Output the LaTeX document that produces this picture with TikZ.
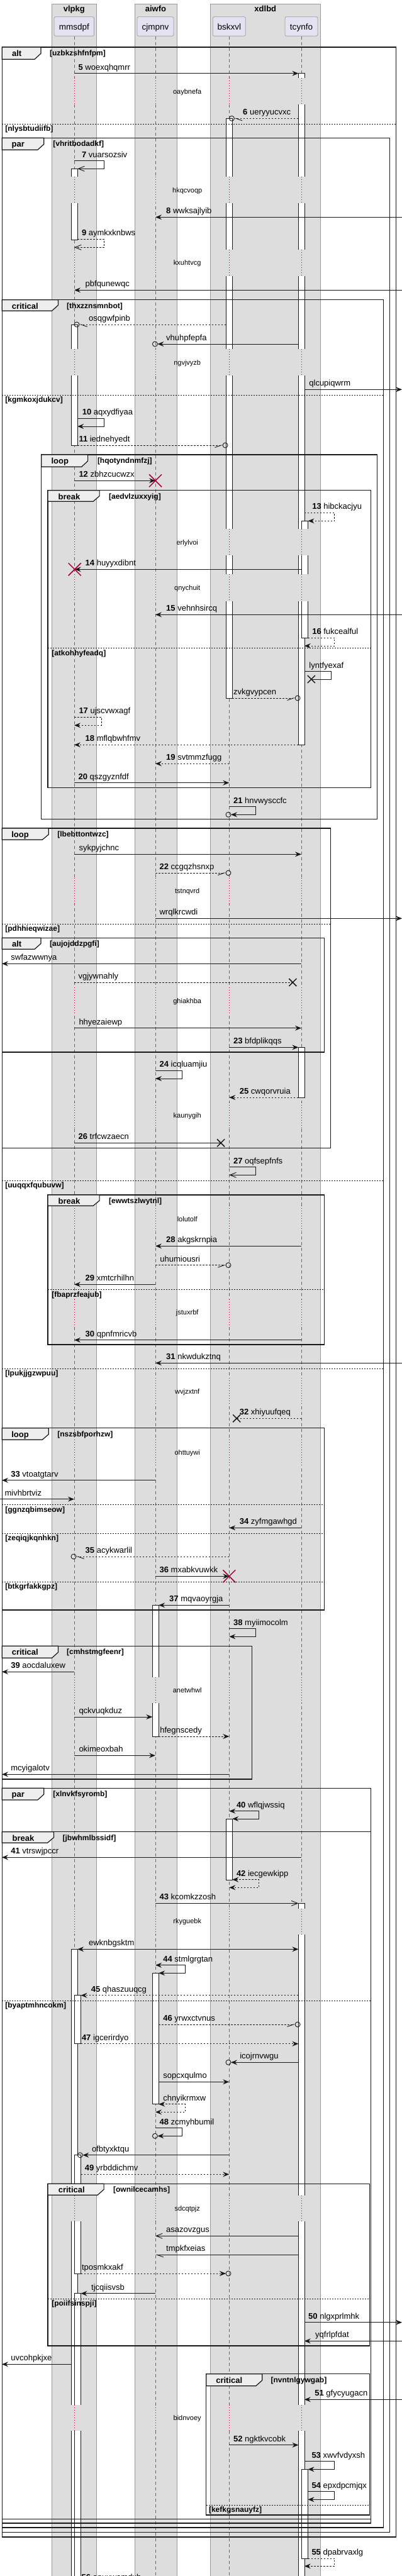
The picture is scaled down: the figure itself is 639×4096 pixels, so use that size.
\documentclass[tikz,border=0pt]{standalone}
\usepackage{fontspec}
\setmainfont{Liberation Sans}
\usetikzlibrary{arrows.meta}
\definecolor{grpfill}{HTML}{DDDDDD}
\definecolor{grpline}{HTML}{999999}
\definecolor{partfill}{HTML}{E2E2F0}
\definecolor{partline}{HTML}{A0A0A0}
\definecolor{tabfill}{HTML}{EEEEEE}
\definecolor{dlyred}{HTML}{A80036}
\definecolor{ink}{HTML}{181818}

\begin{document}
\begin{tikzpicture}[x=1pt, y=-1pt,
  grp/.style={draw=grpline, fill=grpfill, line width=0.8pt},
  part/.style={draw=partline, fill=partfill, rounded corners=2.5pt, line width=0.8pt,
               minimum height=30.6pt, inner sep=0pt, text height=14pt, text depth=3pt,
               font=\fontsize{13.5}{16}\selectfont},
  life/.style={draw=black!60, line width=0.6pt, dash pattern=on 5pt off 4pt},
  act/.style={draw=ink, fill=white, line width=0.8pt},
  dlyline/.style={draw=dlyred, line width=0.8pt, dash pattern=on 1pt off 3pt},
  frm/.style={draw=ink, line width=1.5pt},
  tab/.style={draw=ink, fill=tabfill, line width=1.2pt},
  sep/.style={draw=ink, line width=0.8pt, dash pattern=on 2pt off 2pt},
  msg/.style={draw=ink, line width=0.9pt},
  ret/.style={msg, dash pattern=on 2.5pt off 2.5pt},
  tofill/.style={-{Stealth[length=10pt, width=8pt, inset=3.5pt]}},
  bothfill/.style={{Stealth[length=10pt, width=8pt, inset=3.5pt]}-{Stealth[length=10pt, width=8pt, inset=3.5pt]}},
  toopen/.style={-{Straight Barb[length=10pt, width=8pt]}},
  halfl/.style={-{Straight Barb[left, length=10pt, width=7pt]}},
  halfr/.style={-{Straight Barb[right, length=10pt, width=7pt]}},
  ring/.style={draw=ink, line width=0.9pt},
  xred/.style={draw=dlyred, line width=1.5pt},
  xblk/.style={draw=ink, line width=1.5pt},
  txt/.style={font=\fontsize{13}{15}\selectfont, anchor=base west, inner sep=0pt},
  dly/.style={font=\fontsize{11}{13}\selectfont, inner sep=0pt},
  kind/.style={font=\bfseries\fontsize{13}{15}\selectfont, anchor=base, inner sep=0pt},
  cond/.style={font=\bfseries\fontsize{12}{14}\selectfont, anchor=base west, inner sep=0pt},
  ttl/.style={font=\bfseries\fontsize{13}{15}\selectfont, anchor=base, inner sep=0pt}
]
  \path[use as bounding box, clip] (0,0) rectangle (639,4096);
  \fill[white] (0,0) rectangle (639,4096);

  % boxes and participants
  \draw[grp] (82.1,6) rectangle (153.6,4110);
  \draw[grp] (214,6) rectangle (281,4110);
  \draw[grp] (333.9,6) rectangle (509.7,4110);
  \node[ttl] (vlpkg) at (117.8,18.7) {vlpkg};
  \node[ttl] (aiwfo) at (247.5,18.7) {aiwfo};
  \node[ttl] (xdlbd) at (421.8,18.7) {xdlbd};

  \node[part, minimum width=63.5pt] (mmsdpf) at (117.8,42) {mmsdpf};
  \node[part, minimum width=58pt] (cjmpnv) at (247,42) {cjmpnv};
  \node[part, minimum width=52pt] (bskxvl) at (364.3,42) {bskxvl};
  \node[part, minimum width=52pt] (tcynfo) at (479,42) {tcynfo};

  \foreach \p in {mmsdpf, cjmpnv, bskxvl, tcynfo}
    \draw[life] (\p.south) -- (\p.south |- 0,4110);

  % activations
  \foreach \bx/\ya/\yb in {118/268.3/381.3, 118/516/708, 118/3099.3/4110,
      123.6/3172.7/3249.3, 123.6/3426.7/3615, 123.6/3646.7/4110,
      247.2/2552.3/2761, 247.2/3137.3/3345.7,
      364.3/188.3/1110, 364.3/2892/2989.3,
      479.1/116.7/1184.3, 479.1/1665.3/1745, 479.1/3026.3/4110,
      484.6/828.3/1014, 484.6/3926.3/4068}
    \draw[act] (\bx-4.9,\ya) rectangle (\bx+4.9,\yb);

  % delays
  \foreach \ya/\yb/\ty/\tx in {124.3/165.7/146.7/oaybnefa, 281.3/323/303.3/hkqcvoqp,
      396.7/438.7/418.7/kxuhtvcg, 555.3/597/577.3/ngvjvyzb, 840.7/883.3/863.3/erlylvoi,
      913.3/955.7/935.3/qnychuit, 1395.6/1437/1418/tstnqvrd, 1570/1612/1592.3/ghiakhba,
      1752.6/1794/1775/kaunygih, 1917.3/1958.7/1939/lolutolf, 2066/2108/2088/jstuxrbf,
      2191/2232.7/2213.3/wvjzxtnf, 2288.5/2331/2310.3/ohttuywi, 2666.7/2708/2688/anetwhwl,
      3034.7/3076/3056/rkyguebk, 3490.7/3532.3/3512.3/sdcqtpjz, 3823.7/3865.3/3845.3/bidnvoey} {
    \foreach \lx in {118, 247, 364.3, 479} {
      \fill[grpfill] (\lx-6,\ya) rectangle (\lx+11.5,\yb);
      \draw[dlyline] (\lx,\ya) -- (\lx,\yb);
    }
    \node[dly] (\tx) at (297.7,\ty) {\tx};
  }

  % alt uzbkzshfnfpm
  \draw[frm] (3.3,75) rectangle (629.6,4033.7);
  \draw[tab] (3.3,75) -- (65,75) -- (65,85) -- (55,94.3) -- (3.3,94.3) -- cycle;
  \node[kind] (alta) at (26.7,89.3) {alt};
  \node[cond] (altac) at (78.9,88.5) {[uzbkzshfnfpm]};
  \draw[sep] (3.3,197.3) -- (629.6,197.3);
  \node[cond] (altae) at (8.2,208.8) {[nlysbtudiifb]};
  % par vhritbodadkf
  \draw[frm] (3.3,219.3) rectangle (619.3,4026.3);
  \draw[tab] (3.3,219.3) -- (69.8,219.3) -- (69.8,229.3) -- (59.8,238.3) -- (3.3,238.3) -- cycle;
  \node[kind] (para) at (28.7,233.6) {par};
  \node[cond] (parac) at (84.2,232.8) {[vhritbodadkf]};
  % critical thxzznsmnbot
  \draw[frm] (3.3,476.7) rectangle (609.5,4018.7);
  \draw[tab] (3.3,476.7) -- (92.4,476.7) -- (92.4,485.3) -- (82.4,494.3) -- (3.3,494.3) -- cycle;
  \node[kind] (crita) at (39.8,491) {critical};
  \node[cond] (critac) at (106,490.2) {[thxzznsmnbot]};
  \draw[sep] (3.3,628) -- (609.5,628);
  \node[cond] (critae1) at (8.2,639.5) {[kgmkoxjdukcv]};
  \draw[sep] (3.3,1877.3) -- (609.5,1877.3);
  \node[cond] (critae2) at (8.2,1888.8) {[uuqqxfqubuvw]};
  \draw[sep] (3.3,2176.3) -- (609.5,2176.3);
  \node[cond] (critae3) at (8.2,2187.8) {[lpukjjgzwpuu]};
  % loop hqotyndnmfzj
  \draw[frm] (65.7,723) rectangle (599.6,1302.7);
  \draw[tab] (65.7,723) -- (139.6,723) -- (139.6,733) -- (129.6,742.3) -- (65.7,742.3) -- cycle;
  \node[kind] (loopa) at (95.3,737.3) {loop};
  \node[cond] (loopac) at (154.8,736.5) {[hqotyndnmfzj]};
  % break aedvlzuxxyig
  \draw[frm] (76,779.7) rectangle (589.7,1252.7);
  \draw[tab] (76,779.7) -- (158.1,779.7) -- (158.1,788.7) -- (148.1,797.3) -- (76,797.3) -- cycle;
  \node[kind] (brka) at (110,794) {break};
  \node[cond] (brkac) at (172.9,793.2) {[aedvlzuxxyig]};
  \draw[sep] (76,1030.7) -- (589.7,1030.7);
  \node[cond] (brkae) at (82.1,1042.2) {[atkohhyfeadq]};
  % loop lbebttontwzc
  \draw[frm] (3.3,1317) rectangle (525.7,1825.3);
  \draw[tab] (3.3,1317) -- (77.2,1317) -- (77.2,1327) -- (67.2,1335.3) -- (3.3,1335.3) -- cycle;
  \node[kind] (loopb) at (32,1331.3) {loop};
  \node[cond] (loopbc) at (91.2,1330.5) {[lbebttontwzc]};
  \draw[sep] (3.3,1469) -- (525.7,1469);
  \node[cond] (loopbe) at (8.2,1480.5) {[pdhhieqwizae]};
  % alt aujojddzpgfi
  \draw[frm] (3.3,1491.3) rectangle (515.4,1673);
  \draw[tab] (3.3,1491.3) -- (65,1491.3) -- (65,1500.3) -- (55,1509.3) -- (3.3,1509.3) -- cycle;
  \node[kind] (altb) at (26.7,1505.6) {alt};
  \node[cond] (altbc) at (78.9,1504.8) {[aujojddzpgfi]};
  % break ewwtszlwytnl
  \draw[frm] (76,1900) rectangle (515.4,2138);
  \draw[tab] (76,1900) -- (158.1,1900) -- (158.1,1909) -- (148.1,1917.3) -- (76,1917.3) -- cycle;
  \node[kind] (brkb) at (110,1914.3) {break};
  \node[cond] (brkbc) at (172.9,1913.5) {[ewwtszlwytnl]};
  \draw[sep] (76,2050.5) -- (515.4,2050.5);
  \node[cond] (brkbe) at (82.1,2062) {[fbaprzfeajub]};
  % loop nszsbfporhzw
  \draw[frm] (3.3,2270.7) rectangle (515.4,2560);
  \draw[tab] (3.3,2270.7) -- (77.2,2270.7) -- (77.2,2280.7) -- (67.2,2289.3) -- (3.3,2289.3) -- cycle;
  \node[kind] (loopc) at (32,2285) {loop};
  \node[cond] (loopcc) at (91.2,2284.2) {[nszsbfporhzw]};
  \draw[sep] (3.3,2392.7) -- (515.4,2392.7);
  \node[cond] (loopce1) at (8.2,2404.2) {[ggnzqbimseow]};
  \draw[sep] (3.3,2438.3) -- (515.4,2438.3);
  \node[cond] (loopce2) at (8.2,2449.8) {[zeqiqjkqnhkn]};
  \draw[sep] (3.3,2515.3) -- (515.4,2515.3);
  \node[cond] (loopce3) at (8.2,2526.8) {[btkgrfakkgpz]};
  % critical cmhstmgfeenr
  \draw[frm] (3.3,2617.3) rectangle (400.4,2829);
  \draw[tab] (3.3,2617.3) -- (92.4,2617.3) -- (92.4,2627.3) -- (82.4,2636.3) -- (3.3,2636.3) -- cycle;
  \node[kind] (critb) at (39.8,2631.6) {critical};
  \node[cond] (critbc) at (106,2630.8) {[cmhstmgfeenr]};
  % par xlnvkfsyromb
  \draw[frm] (3.3,2843.3) rectangle (589.7,4012);
  \draw[tab] (3.3,2843.3) -- (69.8,2843.3) -- (69.8,2853) -- (59.8,2862) -- (3.3,2862) -- cycle;
  \node[kind] (parb) at (28.7,2857.6) {par};
  \node[cond] (parbc) at (84.2,2856.8) {[xlnvkfsyromb]};
  % break jbwhmlbssidf
  \draw[frm] (3.3,2912.7) rectangle (589.7,4005.3);
  \draw[tab] (3.3,2912.7) -- (85.4,2912.7) -- (85.4,2921.7) -- (75.4,2930.3) -- (3.3,2930.3) -- cycle;
  \node[kind] (brkc) at (37,2927) {break};
  \node[cond] (brkcc) at (99.4,2926.2) {[jbwhmlbssidf]};
  \draw[sep] (3.3,3181.3) -- (589.7,3181.3);
  \node[cond] (brkce) at (8.2,3192.8) {[byaptmhncokm]};
  % critical ownilcecamhs
  \draw[frm] (76,3472.3) rectangle (587.3,3730);
  \draw[tab] (76,3472.3) -- (165.1,3472.3) -- (165.1,3481.3) -- (155.1,3490.3) -- (76,3490.3) -- cycle;
  \node[kind] (critc) at (113.8,3486.6) {critical};
  \node[cond] (critcc) at (179.9,3485.8) {[ownilcecamhs]};
  \draw[sep] (76,3655.3) -- (587.3,3655.3);
  \node[cond] (critce) at (82.1,3666.8) {[poiifsinspji]};
  % critical nvntnlgywgab
  \draw[frm] (327.7,3774.7) rectangle (587.3,3998.7);
  \draw[tab] (327.7,3774.7) -- (416.8,3774.7) -- (416.8,3784.7) -- (406.8,3793.7) -- (327.7,3793.7) -- cycle;
  \node[kind] (critd) at (364.3,3789) {critical};
  \node[cond] (critdc) at (430.4,3788.2) {[nvntnlgywgab]};
  \draw[sep] (327.7,3983) -- (587.3,3983);
  \node[cond] (critde) at (331.8,3994.5) {[kefkgsnauyfz]};

  % messages
  \draw[msg, tofill] (118,116.7) -- (474.4,116.7);
  \node[txt] (woex) at (124.4,111.1) {\textbf{5} woexqhqmrr};
  \draw[ret, halfl] (474.4,188.3) -- (372.4,188.3);
  \draw[ring] (368.4,188.3) circle[radius=4pt];
  \node[txt] (uery) at (386,182.7) {\textbf{6} ueryyucvxc};
  \draw[msg, toopen] (118,255.7) -- (165.5,255.7) -- (165.5,268.3) -- (123.2,268.3);
  \node[txt] (vuar) at (129.8,250.1) {\textbf{7} vuarsozsiv};
  \draw[msg, tofill] (639,345.3) -- (247,345.3);
  \node[txt] (wwks) at (264,339.7) {\textbf{8} wwksajlyib};
  \draw[ret, toopen] (123.2,380.3) -- (165.5,380.3) -- (165.5,393.3) -- (118,393.3);
  \node[txt] (aymk) at (129.8,374.7) {\textbf{9} aymkxknbws};
  \draw[msg, tofill] (639,461.3) -- (118,461.3);
  \node[txt] (pbfq) at (135.5,455.7) {pbfqunewqc};
  \draw[ret, halfl] (359.4,516) -- (126,516);
  \draw[ring] (122,516) circle[radius=4pt];
  \node[txt] (osqg) at (140.9,510.4) {osqgwfpinb};
  \draw[msg, tofill] (474.4,547) -- (250.4,547);
  \draw[ring] (246.4,547) circle[radius=4pt];
  \node[txt] (vhuh) at (264,541.4) {vhuhpfepfa};
  \draw[msg, tofill] (483.8,619.3) -- (639,619.3);
  \node[txt] (qlcu) at (491.2,613.7) {qlcupiqwrm};
  \draw[msg, tofill] (123.2,665.3) -- (165.5,665.3) -- (165.5,678) -- (123.2,678);
  \node[txt] (aqxy) at (130.6,659.7) {\textbf{10} aqxydfiyaa};
  \draw[ret, halfr] (123.2,708) -- (354.1,708);
  \draw[ring] (358.1,708) circle[radius=4pt];
  \node[txt] (iedn) at (125.3,702.4) {\textbf{11} iednehyedt};
  \draw[msg, tofill] (118,764.3) -- (247,764.3);
  \draw[xred] (237,754.3) -- (257,774.3) (237,774.3) -- (257,754.3);
  \node[txt] (zbhz) at (125.3,758.7) {\textbf{12} zbhzcucwzx};
  \draw[ret, tofill] (483.8,815.3) -- (531.9,815.3) -- (531.9,828.3) -- (489.5,828.3);
  \node[txt] (hibc) at (496.1,809.7) {\textbf{13} hibckacjyu};
  \draw[msg, tofill] (479,905.3) -- (118.7,905.3);
  \draw[xred] (108.7,895.3) -- (128.7,915.3) (108.7,915.3) -- (128.7,895.3);
  \node[txt] (huyy) at (135.5,899.7) {\textbf{14} huyyxdibnt};
  \draw[msg, tofill] (639,977.3) -- (247,977.3);
  \node[txt] (vehn) at (264,971.7) {\textbf{15} vehnhsircq};
  \draw[ret, tofill] (489.5,1014) -- (531.9,1014) -- (531.9,1027) -- (483.8,1027);
  \node[txt] (fukc) at (496.1,1008.4) {\textbf{16} fukcealful};
  \draw[msg] (483.8,1067.7) -- (526.5,1067.7) -- (526.5,1080) -- (494.9,1080);
  \draw[xblk] (488.9,1074) -- (500.9,1086) (488.9,1086) -- (500.9,1074);
  \node[txt] (lynt) at (491.2,1062.1) {lyntfyexaf};
  \draw[ret, halfr] (369.2,1110) -- (469.1,1110);
  \draw[ring] (473.1,1110) circle[radius=4pt];
  \node[txt] (zvkg) at (370.9,1104.4) {zvkgvypcen};
  \draw[ret, tofill] (118,1140.3) -- (161,1140.3) -- (161,1153.3) -- (118,1153.3);
  \node[txt] (ujsc) at (125.3,1134.7) {\textbf{17} ujscvwxagf};
  \draw[ret, tofill] (474.4,1184.3) -- (118,1184.3);
  \node[txt] (mflq) at (135.5,1178.7) {\textbf{18} mflqbwhfmv};
  \draw[ret, tofill] (364.3,1214.3) -- (247,1214.3);
  \node[txt] (svtm) at (264,1208.7) {\textbf{19} svtmmzfugg};
  \draw[msg, tofill] (118,1244.7) -- (364.3,1244.7);
  \node[txt] (qszg) at (124.4,1239.1) {\textbf{20} qszgyznfdf};
  \draw[msg, tofill] (364.3,1282.7) -- (406.6,1282.7) -- (406.6,1295.3) -- (367,1295.3);
  \draw[ring] (363,1295.3) circle[radius=4pt];
  \node[txt] (hnvw) at (370.9,1277.1) {\textbf{21} hnvwysccfc};
  \draw[msg, tofill] (118,1358.3) -- (479,1358.3);
  \node[txt] (sykp) at (125.3,1352.7) {sykpyjchnc};
  \draw[ret, halfr] (247,1388) -- (359,1388);
  \draw[ring] (363,1388) circle[radius=4pt];
  \node[txt] (ccgq) at (253.4,1382.4) {\textbf{22} ccgqzhsnxp};
  \draw[msg, tofill] (247,1460.3) -- (639,1460.3);
  \node[txt] (wrql) at (253.4,1454.7) {wrqlkrcwdi};
  \draw[msg, tofill] (479,1532.3) -- (3,1532.3);
  \node[txt] (swfa) at (17.2,1526.7) {swfazwwnya};
  \draw[ret] (118,1562) -- (465.3,1562);
  \draw[xblk] (459.3,1556) -- (471.3,1568) (459.3,1568) -- (471.3,1556);
  \node[txt] (vgjy) at (124.4,1556.4) {vgjywnahly};
  \draw[msg, tofill] (118,1634.7) -- (479,1634.7);
  \node[txt] (hhye) at (125.3,1629.1) {hhyezaiewp};
  \draw[msg, tofill] (364.3,1665.3) -- (474.4,1665.3);
  \node[txt] (bfdp) at (370.9,1659.7) {\textbf{23} bfdplikqqs};
  \draw[msg, tofill] (247,1702.3) -- (289.5,1702.3) -- (289.5,1715) -- (247,1715);
  \node[txt] (icql) at (253.4,1696.7) {\textbf{24} icqluamjiu};
  \draw[ret, tofill] (474.4,1745) -- (364.3,1745);
  \node[txt] (cwqo) at (380.7,1739.4) {\textbf{25} cwqorvruia};
  \draw[msg] (118,1817.3) -- (351.1,1817.3);
  \draw[xblk] (345.1,1811.3) -- (357.1,1823.3) (345.1,1823.3) -- (357.1,1811.3);
  \node[txt] (trfc) at (124.4,1811.7) {\textbf{26} trfcwzaecn};
  \draw[msg, toopen] (364.3,1855.7) -- (406.6,1855.7) -- (406.6,1868.3) -- (364.3,1868.3);
  \node[txt] (oqfs) at (370.9,1850.1) {\textbf{27} oqfsepfnfs};
  \draw[msg, tofill] (479,1981.3) -- (247,1981.3);
  \node[txt] (akgs) at (264,1975.7) {\textbf{28} akgskrnpia};
  \draw[ret, halfr] (247,2011.7) -- (359,2011.7);
  \draw[ring] (363,2011.7) circle[radius=4pt];
  \node[txt] (uhum) at (254.2,2006.1) {uhumiousri};
  \draw[msg, tofill] (247,2042.3) -- (118,2042.3);
  \node[txt] (xmtc) at (135.5,2036.7) {\textbf{29} xmtcrhilhn};
  \draw[msg, tofill] (479,2130.7) -- (118,2130.7);
  \node[txt] (qpnf) at (135.5,2125.1) {\textbf{30} qpnfmricvb};
  \draw[msg, tofill] (639,2167.3) -- (247,2167.3);
  \node[txt] (nkwd) at (264,2161.7) {\textbf{31} nkwdukztnq};
  \draw[ret] (479,2255.3) -- (376.2,2255.3);
  \draw[xblk] (370.2,2249.3) -- (382.2,2261.3) (370.2,2261.3) -- (382.2,2249.3);
  \node[txt] (xhiy) at (380.7,2249.7) {\textbf{32} xhiyuufqeq};
  \draw[msg, tofill] (247,2353.7) -- (3,2353.7);
  \node[txt] (vtoa) at (17.2,2348.1) {\textbf{33} vtoatgtarv};
  \draw[msg, tofill] (0,2383.7) -- (118,2383.7);
  \node[txt] (mivh) at (7.4,2378.1) {mivhbrtviz};
  \draw[msg, tofill] (479,2429.3) -- (364.3,2429.3);
  \node[txt] (zyfm) at (380.7,2423.7) {\textbf{34} zyfmgawhgd};
  \draw[ret, halfl] (364.3,2475) -- (121,2475);
  \draw[ring] (117,2475) circle[radius=4pt];
  \node[txt] (acyk) at (135.5,2469.4) {\textbf{35} acykwarlil};
  \draw[msg, tofill] (247,2506.3) -- (364.3,2506.3);
  \draw[xred] (354.3,2496.3) -- (374.3,2516.3) (354.3,2516.3) -- (374.3,2496.3);
  \node[txt] (mxab) at (253.4,2500.7) {\textbf{36} mxabkvuwkk};
  \draw[msg, tofill] (364.3,2552.3) -- (252.2,2552.3);
  \node[txt] (mqva) at (269,2546.7) {\textbf{37} mqvaoyrgja};
  \draw[msg, tofill] (364.3,2589.7) -- (406.6,2589.7) -- (406.6,2602.3) -- (364.3,2602.3);
  \node[txt] (myii) at (370.9,2584.1) {\textbf{38} myiimocolm};
  \draw[msg, tofill] (118,2658.3) -- (3,2658.3);
  \node[txt] (aocd) at (17.2,2652.7) {\textbf{39} aocdaluxew};
  \draw[msg, tofill] (118,2730) -- (242.3,2730);
  \node[txt] (qckv) at (125.3,2724.4) {qckvuqkduz};
  \draw[ret, tofill] (252.2,2761) -- (364.3,2761);
  \node[txt] (hfeg) at (254.2,2755.4) {hfegnscedy};
  \draw[msg, tofill] (118,2791.3) -- (247,2791.3);
  \node[txt] (okim) at (125.3,2785.7) {okimeoxbah};
  \draw[msg, tofill] (364.3,2821.3) -- (3,2821.3);
  \node[txt] (mcyi) at (17.2,2815.7) {mcyigalotv};
  \draw[msg, bothfill] (364.3,2879.7) -- (411.5,2879.7) -- (411.5,2892) -- (369.2,2892);
  \node[txt] (wflq) at (375.8,2874.1) {\textbf{40} wflqjwssiq};
  \draw[msg, tofill] (479,2953.3) -- (3,2953.3);
  \node[txt] (vtrs) at (17.2,2947.7) {\textbf{41} vtrswjpccr};
  \draw[ret, bothfill] (369.2,2988.7) -- (411.5,2988.7) -- (411.5,3001.3) -- (364.3,3001.3);
  \node[txt] (iecg) at (375.8,2983.1) {\textbf{42} iecgewkipp};
  \draw[msg, toopen] (247,3026.3) -- (474.4,3026.3);
  \node[txt] (kcom) at (253.4,3020.7) {\textbf{43} kcomkzzosh};
  \draw[msg, bothfill] (123.2,3099.3) -- (474.4,3099.3);
  \node[txt] (ewkn) at (140.9,3093.7) {ewknbgsktm};
  \draw[msg, bothfill] (247,3124.7) -- (294.5,3124.7) -- (294.5,3137.3) -- (252.2,3137.3);
  \node[txt] (stml) at (259.2,3119.1) {\textbf{44} stmlgrgtan};
  \draw[ret, tofill] (474.4,3172.7) -- (128.5,3172.7);
  \node[txt] (qhas) at (144.6,3167.1) {\textbf{45} qhaszuuqcg};
  \draw[ret, halfr] (252.2,3219) -- (469.1,3219);
  \draw[ring] (473.1,3219) circle[radius=4pt];
  \node[txt] (yrwx) at (259.2,3213.4) {\textbf{46} yrwxctvnus};
  \draw[ret, tofill] (128.5,3249.7) -- (474.4,3249.7);
  \node[txt] (igce) at (129.8,3244.1) {\textbf{47} igcerirdyo};
  \draw[msg, tofill] (474.4,3279.3) -- (367,3279.3);
  \draw[ring] (363,3279.3) circle[radius=4pt];
  \node[txt] (icoj) at (381.1,3273.7) {icojrnvwgu};
  \draw[msg, tofill] (252.2,3310.3) -- (364.3,3310.3);
  \node[txt] (sopc) at (259.2,3304.7) {sopcxqulmo};
  \draw[ret, bothfill] (252.2,3345.7) -- (294.5,3345.7) -- (294.5,3358.3) -- (247,3358.3);
  \node[txt] (chny) at (259.2,3340.1) {chnyikrmxw};
  \draw[msg, tofill] (247,3383.7) -- (289.5,3383.7) -- (289.5,3396.3) -- (250.4,3396.3);
  \draw[ring] (246.4,3396.3) circle[radius=4pt];
  \node[txt] (zcmy) at (253.4,3378.1) {\textbf{48} zcmyhbumil};
  \draw[msg, tofill] (364.3,3426.7) -- (131.3,3426.7);
  \draw[ring] (127.3,3426.7) circle[radius=4pt];
  \node[txt] (ofbt) at (145.8,3421.1) {ofbtyxktqu};
  \draw[ret, tofill] (128.5,3457.3) -- (364.3,3457.3);
  \node[txt] (yrbd) at (134.7,3451.7) {\textbf{49} yrbddichmv};
  \draw[msg, toopen] (474.4,3555.3) -- (247,3555.3);
  \node[txt] (asaz) at (264,3549.7) {asazovzgus};
  \draw[msg, halfl] (474.4,3585.3) -- (247,3585.3);
  \node[txt] (tmpk) at (264,3579.7) {tmpkfxeias};
  \draw[ret, tofill] (128.5,3615) -- (359,3615);
  \draw[ring] (363,3615) circle[radius=4pt];
  \node[txt] (tpos) at (129.8,3609.4) {tposmkxakf};
  \draw[msg, tofill] (247,3646.7) -- (128.5,3646.7);
  \node[txt] (tjcq) at (145,3641.1) {tjcqiisvsb};
  \draw[msg, tofill] (483.8,3692.7) -- (639,3692.7);
  \node[txt] (nlgx) at (490,3687.1) {\textbf{50} nlgxprlmhk};
  \draw[msg, tofill] (639,3722.3) -- (483.8,3722.3);
  \node[txt] (yqfr) at (501,3716.7) {yqfrlpfdat};
  \draw[msg, tofill] (113.4,3759.3) -- (3,3759.3);
  \node[txt] (uvco) at (17.2,3753.7) {uvcohpkjxe};
  \draw[msg, tofill] (639,3815.3) -- (483.8,3815.3);
  \node[txt] (gfyc) at (500.2,3809.7) {\textbf{51} gfycyugacn};
  \draw[msg, tofill] (364.3,3887.7) -- (474.4,3887.7);
  \node[txt] (ngkt) at (370.9,3882.1) {\textbf{52} ngktkvcobk};
  \draw[msg, tofill] (483.8,3913.7) -- (531.9,3913.7) -- (531.9,3926.3) -- (489.5,3926.3);
  \node[txt] (xwvf) at (495.3,3908.1) {\textbf{53} xwvfvdyxsh};
  \draw[msg, tofill] (489.5,3961.7) -- (531.9,3961.7) -- (531.9,3974.3) -- (489.5,3974.3);
  \node[txt] (epxd) at (495.3,3956.1) {\textbf{54} epxdpcmjqx};
  \draw[ret, tofill] (489.5,4068) -- (531.9,4068) -- (531.9,4080.3) -- (483.8,4080.3);
  \node[txt] (dpab) at (495.3,4062.4) {\textbf{55} dpabrvaxlg};
  \node[txt] (apux) at (129.4,4102) {\textbf{56} apuxwomdxh};
\end{tikzpicture}
\end{document}
